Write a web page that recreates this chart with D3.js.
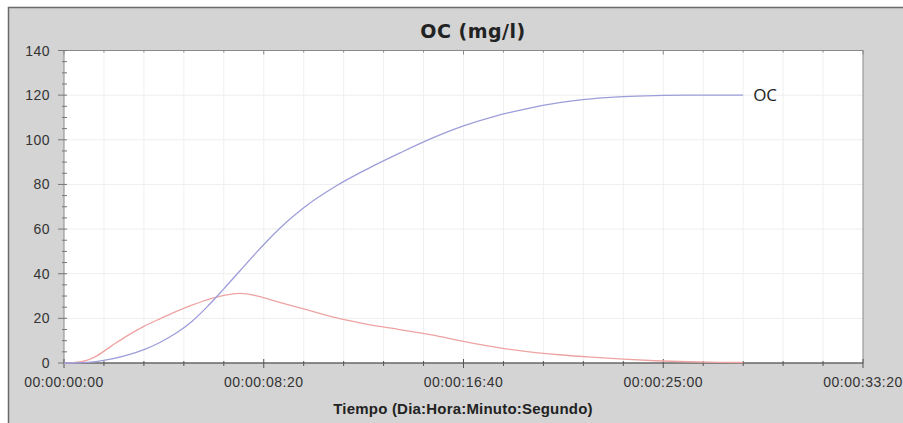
<!DOCTYPE html>
<html>
<head>
<meta charset="utf-8">
<script src="https://cdn.jsdelivr.net/npm/d3@7"></script>
<style>
	body { margin: 0; background: #fff; }
	svg { display: block; }
	.tick-label { font-family: "Liberation Sans", Arial, sans-serif; font-size: 14px; fill: #333; letter-spacing: 0.5px; }
</style>
</head>
<body>
<div id="chart"></div>
<script>
// Chart of OC concentration over time

// Time in seconds for each sample
let timeSec = [0, 40, 80, 120, 160, 200, 240, 280, 320, 360, 400, 440, 480, 520, 560, 600,
	680, 760, 840, 920, 1000, 1080, 1160, 1240, 1320, 1400, 1480, 1560, 1640, 1700];

// OC values (mg/l), the labelled blue series
let ocValues = [0, 0.1, 0.6, 1.8, 3.6, 6, 9.2, 13.3, 18.6, 25.5, 33.2, 41.2, 49.2, 56.8, 63.6, 69.6,
	79.2, 87, 94, 100.6, 106.2, 110.6, 114, 116.6, 118.3, 119.3, 119.8, 120, 120, 120];

// Second (red) series
let redValues = [0, 0.5, 3, 7.8, 12.4, 16.4, 19.8, 23, 25.9, 28.4, 30.3, 31.2, 30.2, 28.2, 26.2, 24.2,
	20.3, 17.3, 15, 12.6, 9.7, 7.1, 5.1, 3.7, 2.6, 1.7, 1, 0.55, 0.3, 0.2];

let xMajorTicks = [0, 500, 1000, 1500, 2000];
let yMajorTicks = [0, 20, 40, 60, 80, 100, 120, 140];

let seriesLabel = "OC";
let chartTitle = "OC (mg/l)";
let xTitle = "Tiempo (Dia:Hora:Minuto:Segundo)";

// -------------------------------

let width = 903, height = 423;
let plot = { left: 64, right: 863, top: 50.5, bottom: 363 };

let svg = d3.select("#chart")
	.append("svg")
	.attr("width", width)
	.attr("height", height);

// Grey panel with dark top/left edge
svg.append("rect")
	.attr("x", 8).attr("y", 7)
	.attr("width", width - 8).attr("height", height - 7)
	.attr("fill", "#d4d4d4");
svg.append("path")
	.attr("d", `M8.5,${height}V7.5H${width}`)
	.attr("fill", "none")
	.attr("stroke", "#6a6a6a")
	.attr("stroke-width", 1.5);

let x = d3.scaleLinear().domain([0, 2000]).range([plot.left, plot.right]);
let y = d3.scaleLinear().domain([0, 140]).range([plot.bottom, plot.top]);

// Format seconds as dd:hh:mm:ss
let pad = n => String(n).padStart(2, "0");
let fmtTime = s => {
	let d = Math.floor(s / 86400), h = Math.floor(s / 3600) % 24,
		m = Math.floor(s / 60) % 60, sec = s % 60;
	return [d, h, m, sec].map(pad).join(":");
};

// White plot area
svg.append("rect")
	.attr("x", plot.left).attr("y", plot.top)
	.attr("width", plot.right - plot.left).attr("height", plot.bottom - plot.top)
	.attr("fill", "#fff");

// Grid lines
let xMinor = d3.range(0, 2001, 100);
let yMinor = d3.range(0, 141, 5);

svg.append("g").selectAll("line")
	.data(xMinor.slice(1, -1))
	.enter().append("line")
	.attr("x1", d => x(d)).attr("x2", d => x(d))
	.attr("y1", plot.top).attr("y2", plot.bottom)
	.attr("stroke", "#f0f0f0");

svg.append("g").selectAll("line")
	.data(yMajorTicks.slice(1, -1))
	.enter().append("line")
	.attr("x1", plot.left).attr("x2", plot.right)
	.attr("y1", d => y(d)).attr("y2", d => y(d))
	.attr("stroke", "#eeeeee");

// Plot frame
svg.append("rect")
	.attr("x", plot.left).attr("y", plot.top)
	.attr("width", plot.right - plot.left).attr("height", plot.bottom - plot.top)
	.attr("fill", "none")
	.attr("stroke", "#8a8a8a");
svg.append("line")
	.attr("x1", plot.left).attr("x2", plot.right)
	.attr("y1", plot.bottom).attr("y2", plot.bottom)
	.attr("stroke", "#555");

// Ticks on bottom and top
let isXMajor = d => xMajorTicks.includes(d);
svg.append("g").selectAll("line")
	.data(xMinor)
	.enter().append("line")
	.attr("x1", d => x(d)).attr("x2", d => x(d))
	.attr("y1", d => plot.bottom - (isXMajor(d) ? 4 : 2))
	.attr("y2", d => plot.bottom + (isXMajor(d) ? 5 : 3))
	.attr("stroke", "#555");
svg.append("g").selectAll("line")
	.data(xMinor)
	.enter().append("line")
	.attr("x1", d => x(d)).attr("x2", d => x(d))
	.attr("y1", plot.top)
	.attr("y2", d => plot.top + (isXMajor(d) ? 4 : 2))
	.attr("stroke", "#888");

// Ticks on the left
let isYMajor = d => yMajorTicks.includes(d);
svg.append("g").selectAll("line")
	.data(yMinor)
	.enter().append("line")
	.attr("x1", d => plot.left - (isYMajor(d) ? 6 : 2))
	.attr("x2", d => plot.left + 3)
	.attr("y1", d => y(d)).attr("y2", d => y(d))
	.attr("stroke", "#777");

// Tick labels
svg.append("g").selectAll("text")
	.data(xMajorTicks)
	.enter().append("text")
	.attr("class", "tick-label")
	.attr("x", d => x(d))
	.attr("y", plot.bottom + 24)
	.attr("text-anchor", "middle")
	.text(fmtTime);

svg.append("g").selectAll("text")
	.data(yMajorTicks)
	.enter().append("text")
	.attr("class", "tick-label")
	.attr("x", 50)
	.attr("y", d => y(d))
	.attr("dy", "0.36em")
	.attr("text-anchor", "end")
	.text(d => d);

// Series lines
let line = vals => d3.line()
	.x((d, i) => x(timeSec[i]))
	.y(d => y(d))
	.curve(d3.curveMonotoneX)(vals);

svg.append("path")
	.attr("d", line(redValues))
	.attr("fill", "none")
	.attr("stroke", "#eea3a3")
	.attr("stroke-width", 1.3);

svg.append("path")
	.attr("d", line(ocValues))
	.attr("fill", "none")
	.attr("stroke", "#9d9dda")
	.attr("stroke-width", 1.3);

// End label for OC line
svg.append("text")
	.attr("x", x(timeSec[timeSec.length - 1]) + 10)
	.attr("y", y(ocValues[ocValues.length - 1]))
	.attr("dy", "0.36em")
	.style("font-family", "\"Open Sans\", \"DejaVu Sans\", sans-serif")
	.style("font-size", "17px")
	.style("fill", "#222")
	.text(seriesLabel);

// Titles
svg.append("text")
	.attr("x", 473)
	.attr("y", 38)
	.attr("text-anchor", "middle")
	.style("font-family", "\"DejaVu Sans\", Verdana, sans-serif")
	.style("font-weight", "bold")
	.style("font-size", "19px")
	.style("letter-spacing", "0.5px")
	.style("fill", "#222")
	.text(chartTitle);

svg.append("text")
	.attr("x", 463)
	.attr("y", 414)
	.attr("text-anchor", "middle")
	.style("font-family", "\"Liberation Sans\", Arial, sans-serif")
	.style("font-weight", "bold")
	.style("font-size", "15px")
	.style("letter-spacing", "0.2px")
	.style("fill", "#222")
	.text(xTitle);
</script>
</body>
</html>
